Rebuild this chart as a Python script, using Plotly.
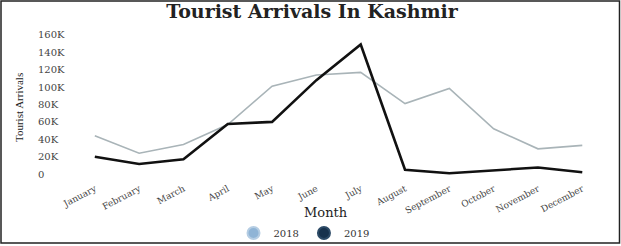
import plotly.graph_objects as go

months = ["January", "February", "March", "April", "May", "June", "July",
          "August", "September", "October", "November", "December"]
arrivals_2018 = [44000, 24000, 34000, 57000, 101000, 114000, 117000, 81000, 98500, 52000, 29000, 33000]
arrivals_2019 = [20000, 11500, 17000, 57500, 60000, 108000, 149000, 5000, 1000, 4000, 7500, 2000]
tick_vals = [0, 20000, 40000, 60000, 80000, 100000, 120000, 140000, 160000]
tick_text = ["0", "20K", "40K", "60K", "80K", "100K", "120K", "140K", "160K"]

W, H = 621, 246
L, R, T, B = 35, 21, 28, 65
pw, ph = W - L - R, H - T - B

def px_x(p):
    return (p - L) / pw

def px_y(p):
    return (H - B - p) / ph

serif = "DejaVu Serif"

fig = go.Figure()
fig.add_trace(go.Scatter(x=months, y=arrivals_2018, mode="lines", name="2018",
                         line=dict(color="#a9b4b8", width=1.6), showlegend=False))
fig.add_trace(go.Scatter(x=months, y=arrivals_2019, mode="lines", name="2019",
                         line=dict(color="#111111", width=2.6), showlegend=False))
# legend entries
fig.add_trace(go.Scatter(x=[None], y=[None], mode="markers", name="2018",
                         marker=dict(color="#8fb4d6", size=11, line=dict(color="#b5cde3", width=1))))
fig.add_trace(go.Scatter(x=[None], y=[None], mode="markers", name="2019",
                         marker=dict(color="#17324d", size=11, line=dict(color="#2c4a66", width=1))))

fig.update_layout(
    width=W, height=H,
    margin=dict(l=L, r=R, t=T, b=B, autoexpand=False),
    paper_bgcolor="white", plot_bgcolor="white",
    font=dict(family=serif, color="#333333", size=10),
    title=dict(text="<b>Tourist Arrivals In Kashmir</b>", x=312 / W, xanchor="center",
               y=1 - 11 / H, yanchor="middle", yref="container",
               font=dict(family=serif, size=19, color="#222222")),
    xaxis=dict(type="category", range=[-1.35, 11.4], showgrid=False, zeroline=False,
               showline=False, ticks="", tickangle=-28, automargin=False,
               tickfont=dict(family=serif, size=9, color="#444444")),
    yaxis=dict(range=[-8000, 168000], showgrid=False, zeroline=False, showline=False,
               tickvals=tick_vals, ticktext=tick_text, ticks="", automargin=False,
               ticklabelposition="inside",
               tickfont=dict(family=serif, size=10, color="#444444")),
    legend=dict(orientation="h", xref="container", yref="container",
                x=304 / W, xanchor="center", y=1 - 233 / H, yanchor="middle",
                font=dict(family=serif, size=10, color="#333333"),
                bgcolor="rgba(0,0,0,0)", itemsizing="constant"),
    annotations=[
        dict(text="Tourist Arrivals", textangle=-90, xref="paper", yref="paper",
             x=px_x(19), y=px_y(108), showarrow=False, xanchor="center", yanchor="middle",
             font=dict(family="Liberation Serif", size=11, color="#222222")),
        dict(text="Month", xref="paper", yref="paper",
             x=px_x(326), y=px_y(212), showarrow=False, xanchor="center", yanchor="middle",
             font=dict(family=serif, size=13, color="#222222")),
    ],
    shapes=[
        dict(type="rect", xref="paper", yref="paper",
             x0=px_x(1), x1=px_x(619.5), y0=px_y(243), y1=px_y(1),
             line=dict(color="#222222", width=1.5), fillcolor="rgba(0,0,0,0)"),
    ],
)

fig.write_html("out.html")
